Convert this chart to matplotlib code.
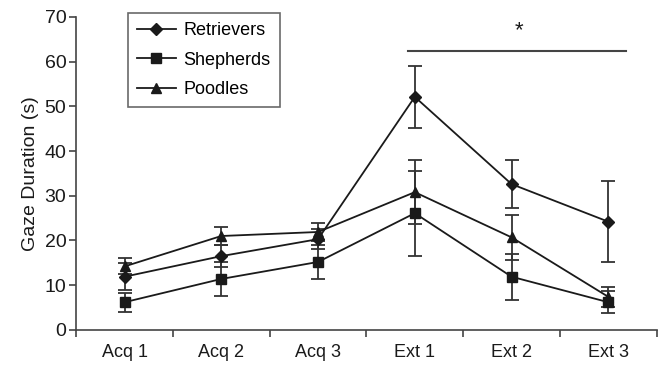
import numpy as np
import matplotlib.pyplot as plt
from matplotlib.lines import Line2D

plt.rcParams['font.family'] = ['Liberation Sans', 'DejaVu Sans']

# data
phases = ['Acq 1', 'Acq 2', 'Acq 3', 'Ext 1', 'Ext 2', 'Ext 3']
retrievers = [11.9, 16.5, 20.3, 52.1, 32.6, 24.2]
retrievers_err = [3.0, 2.5, 2.2, 7.0, 5.3, 9.1]
shepherds = [6.2, 11.4, 15.2, 26.1, 11.9, 6.2]
shepherds_err = [2.1, 3.7, 3.8, 9.5, 5.1, 2.5]
poodles = [14.2, 21.0, 21.9, 30.8, 20.7, 7.4]
poodles_err = [1.8, 2.0, 2.1, 7.1, 5.0, 2.3]

ink = '#1a1a1a'
grey = '#444444'

fig = plt.figure(figsize=(6.62, 3.65), dpi=100)
ax = fig.add_axes([0.115, 0.096, 0.877, 0.858])

x = np.arange(len(phases))
series = [
    ('Retrievers', retrievers, retrievers_err, 'D', 6),
    ('Shepherds', shepherds, shepherds_err, 's', 6.5),
    ('Poodles', poodles, poodles_err, '^', 7.5),
]
handles = []
for name, vals, err, mk, ms in series:
    ax.errorbar(x, vals, yerr=err, color=ink, ecolor='#333333', lw=1.3,
                elinewidth=1.3, capsize=5, capthick=1.3,
                marker=mk, markersize=ms)
    handles.append(Line2D([], [], color=ink, lw=1.3, marker=mk,
                          markersize=ms, label=name))

# significance bar
ax.plot([2.93, 5.18], [62.3, 62.3], color=grey, lw=1.5, clip_on=False)
ax.text(4.08, 66.8, '*', ha='center', va='center', fontsize=16, color=ink)

ax.set_xlim(-0.5, 5.5)
ax.set_ylim(0, 70)
ax.set_yticks(range(0, 71, 10))
ax.set_xticks(x)
ax.set_xticklabels(phases)
ax.set_xticks(np.arange(-0.5, 6.0, 1.0), minor=True)
ax.tick_params(axis='x', which='major', length=0, pad=10, labelsize=13, colors=ink)
ax.tick_params(axis='x', which='minor', length=5, width=1.2, color=grey, direction='out')
ax.tick_params(axis='y', length=5, width=1.2, color=grey, labelsize=14, labelcolor=ink, pad=2)

for s in ['top', 'right']:
    ax.spines[s].set_visible(False)
for s in ['left', 'bottom']:
    ax.spines[s].set_color(grey)
    ax.spines[s].set_linewidth(1.2)

ax.set_ylabel('Gaze Duration (s)', fontsize=14, color=ink, labelpad=4)

leg = ax.legend(handles=handles, loc='upper left', bbox_to_anchor=(0.073, 1.04),
                fontsize=13, frameon=True, fancybox=False, edgecolor=grey,
                handlelength=2.2, borderpad=0.5, labelspacing=0.68,
                handletextpad=0.4)
leg.get_frame().set_linewidth(1.2)

fig.savefig('out.png', dpi=100)
